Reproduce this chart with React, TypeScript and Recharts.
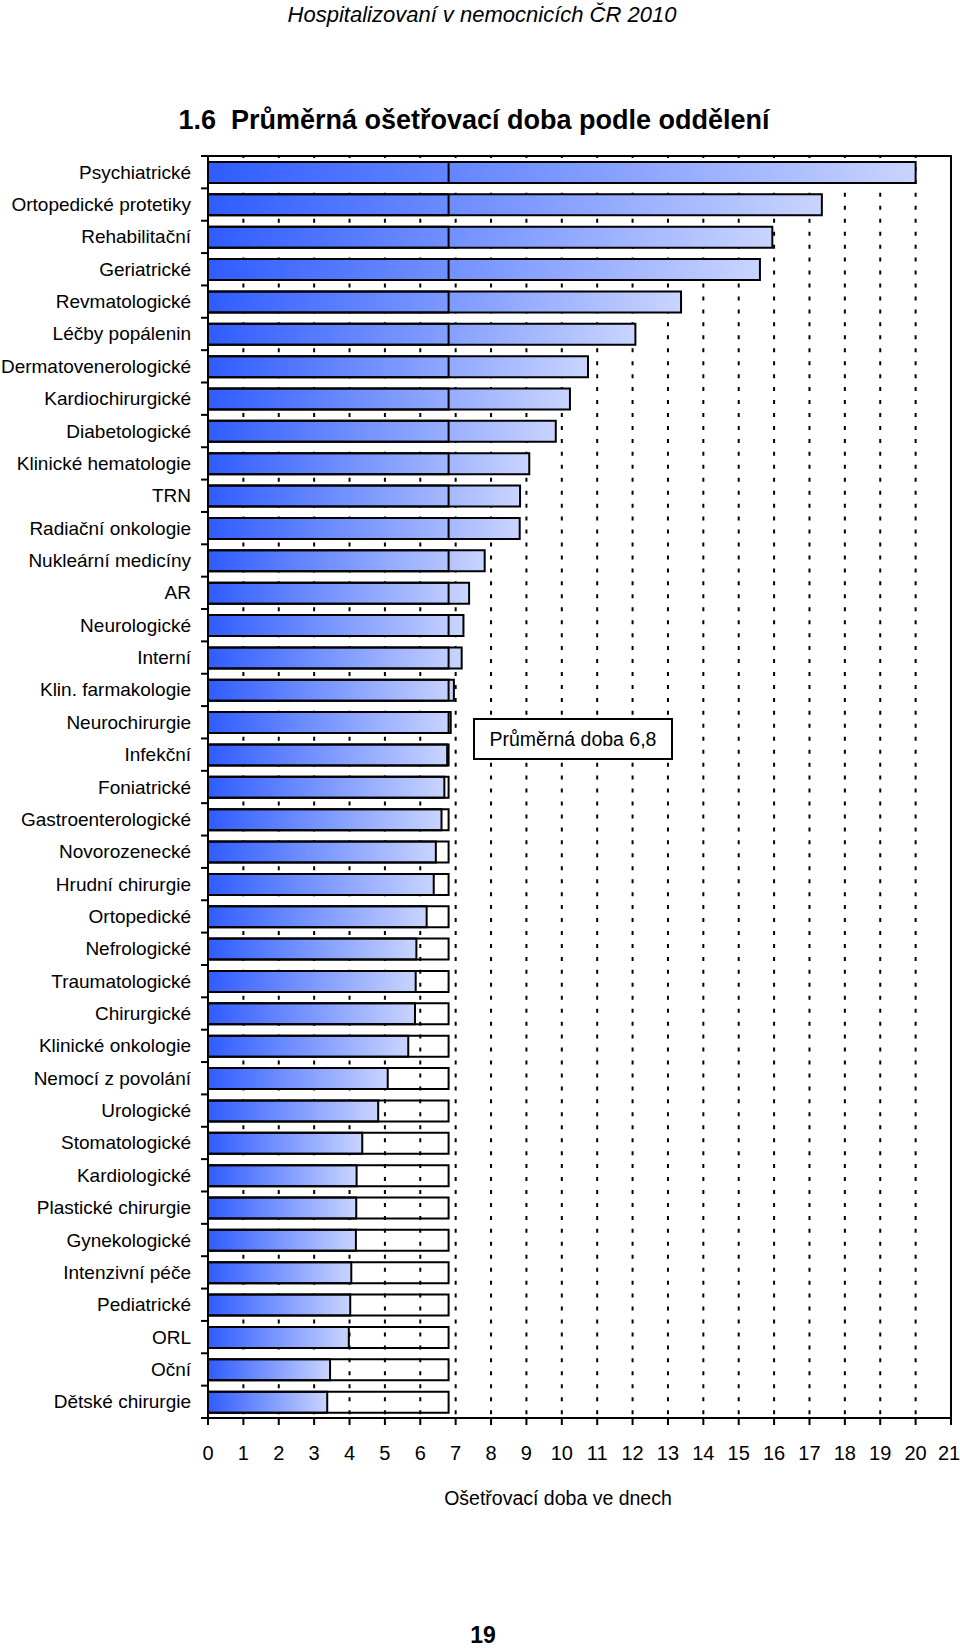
import React from 'react'
import { BarChart, Bar, XAxis, YAxis, CartesianGrid, ReferenceArea } from 'recharts'

// Hospitalizovaní v nemocnicích ČR 2010 - 1.6 Průměrná ošetřovací doba podle oddělení

const departments = [
  'Psychiatrické', 'Ortopedické protetiky', 'Rehabilitační', 'Geriatrické', 'Revmatologické',
  'Léčby popálenin', 'Dermatovenerologické', 'Kardiochirurgické', 'Diabetologické',
  'Klinické hematologie', 'TRN', 'Radiační onkologie', 'Nukleární medicíny', 'AR',
  'Neurologické', 'Interní', 'Klin. farmakologie', 'Neurochirurgie', 'Infekční',
  'Foniatrické', 'Gastroenterologické', 'Novorozenecké', 'Hrudní chirurgie', 'Ortopedické',
  'Nefrologické', 'Traumatologické', 'Chirurgické', 'Klinické onkologie', 'Nemocí z povolání',
  'Urologické', 'Stomatologické', 'Kardiologické', 'Plastické chirurgie', 'Gynekologické',
  'Intenzivní péče', 'Pediatrické', 'ORL', 'Oční', 'Dětské chirurgie',
]

const days = [
  20.0, 17.35, 15.95, 15.6, 13.37,
  12.08, 10.74, 10.23, 9.83,
  9.08, 8.82, 8.81, 7.82, 7.38,
  7.22, 7.17, 6.95, 6.86, 6.76,
  6.68, 6.6, 6.44, 6.38, 6.18,
  5.89, 5.87, 5.85, 5.66, 5.08,
  4.81, 4.36, 4.2, 4.19, 4.18,
  4.05, 4.02, 3.98, 3.45, 3.37,
]

const average = 6.8
const xTicks = [0, 1, 2, 3, 4, 5, 6, 7, 8, 9, 10, 11, 12, 13, 14, 15, 16, 17, 18, 19, 20, 21]

const rows = departments.map((name, i) => ({ name, days: days[i], avg: average }))

const FONT = "'Liberation Sans', Arial, sans-serif"
const W = 960
const H = 1650
const PLOT_LEFT = 208
const PLOT_TOP = 156
const PLOT_BOTTOM = 1418
const BAND = (PLOT_BOTTOM - PLOT_TOP) / departments.length

const CategoryTick = (props: any) => {
  const { y, payload, index } = props
  return (
    <g>
      <text x={PLOT_LEFT - 17} y={y} dy={6.5} textAnchor="end" fontSize={19} fontFamily={FONT} fill="#000">
        {payload.value}
      </text>
      <line x1={PLOT_LEFT - 7} x2={PLOT_LEFT} y1={y - BAND / 2} y2={y - BAND / 2} stroke="#000" strokeWidth={2} />
      {index === departments.length - 1 && (
        <line x1={PLOT_LEFT - 7} x2={PLOT_LEFT} y1={y + BAND / 2} y2={y + BAND / 2} stroke="#000" strokeWidth={2} />
      )}
    </g>
  )
}

const DayTick = (props: any) => {
  const { x, payload } = props
  // last label sits at the page edge, nudge it in a little
  const dx = payload.value === 21 ? -2 : 0
  return (
    <text x={x + dx} y={1460} textAnchor="middle" fontSize={20} fontFamily={FONT} fill="#000">
      {payload.value}
    </text>
  )
}

const DottedLine = (props: any) => {
  const top = Math.min(props.y1, props.y2)
  const bottom = Math.max(props.y1, props.y2)
  return (
    <line
      key={props.key}
      x1={props.x1}
      x2={props.x2}
      y1={top}
      y2={bottom}
      stroke="#000"
      strokeWidth={2}
      strokeDasharray="4 8.95"
      strokeDashoffset={2}
    />
  )
}

export default function App() {
  return (
    <div style={{ position: 'absolute', left: 0, top: 0, width: W, height: H, background: '#fff' }}>
      <BarChart
        width={W}
        height={H}
        data={rows}
        layout="vertical"
        margin={{ top: PLOT_TOP, right: 9, bottom: 192, left: 0 }}
        barSize={21}
        barGap={-21}
      >
        <defs>
          <linearGradient id="barFill" x1="0" y1="0" x2="1" y2="0">
            <stop offset="0%" stopColor="#2F5CFF" />
            <stop offset="100%" stopColor="#C9D4FF" />
          </linearGradient>
        </defs>
        <CartesianGrid horizontal={false} vertical={DottedLine} />
        <XAxis
          type="number"
          domain={[0, 21]}
          ticks={xTicks}
          interval={0}
          height={40}
          tickSize={7}
          tick={DayTick}
          axisLine={{ stroke: '#000', strokeWidth: 2 }}
          tickLine={{ stroke: '#000', strokeWidth: 2 }}
        />
        <YAxis
          type="category"
          dataKey="name"
          width={PLOT_LEFT}
          interval={0}
          tickLine={false}
          tick={CategoryTick}
          axisLine={{ stroke: '#000', strokeWidth: 2 }}
        />
        <ReferenceArea x1={0} x2={21} fill="none" fillOpacity={0} stroke="#000" strokeWidth={2} />
        <Bar dataKey="days" fill="url(#barFill)" stroke="#000" strokeWidth={2} isAnimationActive={false} />
        <Bar dataKey="avg" fill="none" stroke="#000" strokeWidth={2} isAnimationActive={false} />
      </BarChart>
      <svg width={W} height={H} style={{ position: 'absolute', left: 0, top: 0, pointerEvents: 'none' }}>
        <text x={482} y={22} textAnchor="middle" fontSize={22} fontStyle="italic" fontFamily={FONT} fill="#000">
          Hospitalizovaní v nemocnicích ČR 2010
        </text>
        <text x={474} y={129} textAnchor="middle" fontSize={27} fontWeight="bold" fontFamily={FONT} fill="#000">
          1.6{'\u00a0 '}Průměrná ošetřovací doba podle oddělení
        </text>
        <rect x={474} y={719} width={198} height={40} fill="#fff" stroke="#000" strokeWidth={2} />
        <text x={573} y={746} textAnchor="middle" fontSize={19.5} fontFamily={FONT} fill="#000">
          Průměrná doba 6,8
        </text>
        <text x={558} y={1505} textAnchor="middle" fontSize={19.5} fontFamily={FONT} fill="#000">
          Ošetřovací doba ve dnech
        </text>
        <text x={483} y={1643} textAnchor="middle" fontSize={23} fontWeight="bold" fontFamily={FONT} fill="#000">
          19
        </text>
      </svg>
    </div>
  )
}
